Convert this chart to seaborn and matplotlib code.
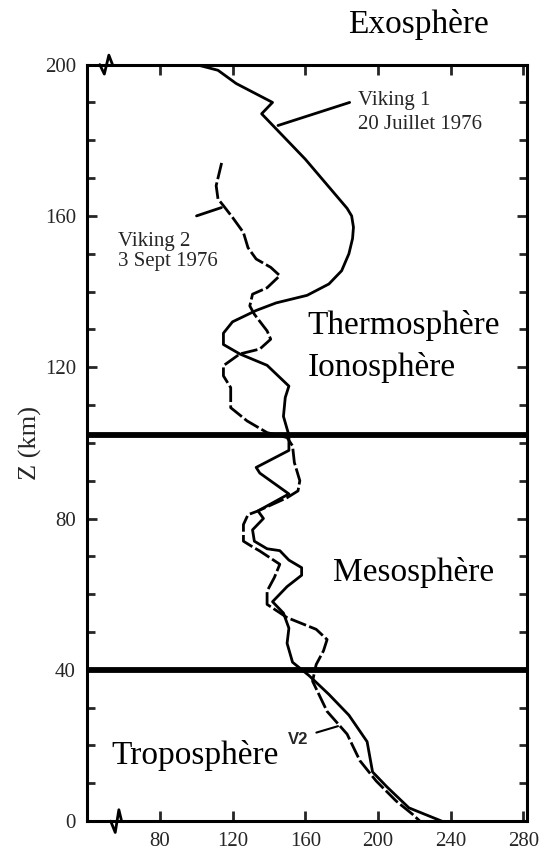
import numpy as np
import pandas as pd
import matplotlib
matplotlib.use("Agg")
import matplotlib.pyplot as plt
import seaborn as sns

# Viking 1 temperature profile (T in K, Z in km)
v1_temp = [100, 112, 122, 142, 136, 160, 183, 185.5, 186.5, 186, 184, 180, 173,
           161, 144, 133, 120, 115, 115, 124, 139, 151, 149, 148, 151, 151, 133,
           135, 151, 134, 137, 131, 132, 139, 146, 151, 158, 158, 150, 142, 148,
           151, 150, 153, 162, 173, 184, 194, 197, 205, 217, 235]
v1_alt = [200, 198.5, 195, 190, 187, 175, 162, 160, 157, 154, 150, 145.5, 142,
          139, 137, 135, 132, 129, 126, 123.5, 120.5, 115, 112, 107, 102, 98,
          93.5, 92, 86.5, 82, 80, 77, 74, 72, 71.5, 69, 67, 65, 62, 58, 55, 51,
          47, 42, 38.5, 33.5, 28, 21, 13, 9, 3.5, 0]

# Viking 2 temperature profile
v2_temp = [114, 111, 112, 115, 120, 126, 128.5, 133, 141, 146, 139, 131, 129.5,
           132, 139, 141, 135, 124, 115, 115, 119, 119, 128, 139, 150, 153, 154,
           157, 156, 150, 134, 128.5, 126, 126, 130, 135, 146, 143, 139, 139,
           150, 166, 172, 170, 166, 164, 172, 183, 190, 199, 210, 219, 223]
v2_alt = [174, 168, 164.5, 162.7, 159.6, 155.6, 151.6, 148.6, 146.4, 144.2, 141,
          139.3, 136.2, 134, 129.6, 127.4, 124.8, 123.5, 120.4, 117.7, 114.6,
          109.3, 105.8, 102.7, 101.4, 99.2, 94.8, 90, 87.3, 85.5, 82, 81, 78.4,
          74, 72.8, 71.4, 67.9, 64.4, 60.8, 57.3, 53.8, 50.7, 48, 45, 41.4, 37,
          29, 23, 16, 10.6, 5.3, 1.8, 0]

# layer boundaries (km)
boundaries = [40, 102]

x_ticks = [80, 120, 160, 200, 240, 280]
y_ticks = [0, 40, 80, 120, 160, 200]

df1 = pd.DataFrame({"T": v1_temp, "Z": v1_alt})
df2 = pd.DataFrame({"T": v2_temp, "Z": v2_alt})

sns.set_style("ticks")
plt.rcParams['font.family'] = ['Liberation Serif', 'DejaVu Serif']
plt.rcParams['axes.unicode_minus'] = False

fig = plt.figure(figsize=(5.44, 8.5), dpi=100)
ax = fig.add_axes([0.160, 0.034, 0.809, 0.890])

sns.lineplot(data=df1, x="T", y="Z", sort=False, estimator=None,
             color="black", lw=2.0, ax=ax)
sns.lineplot(data=df2, x="T", y="Z", sort=False, estimator=None,
             color="black", lw=2.0, ax=ax)
ax.lines[-1].set_dashes((6, 1.2))

for b in boundaries:
    ax.axhline(b, color="black", lw=4.2, zorder=3)

ax.set_xlim(40, 282)
ax.set_ylim(0, 200)
ax.set_xticks(x_ticks)
ax.set_yticks(y_ticks)
ax.set_yticks(np.arange(0, 201, 10), minor=True)
ax.tick_params(axis="both", which="major", direction="in", length=7, width=2,
               labelsize=15, top=True, right=True, pad=8)
ax.tick_params(axis="y", which="minor", direction="in", length=6, width=2,
               right=True)
ax.set_xlabel("")
ax.set_ylabel("Z (km)", fontsize=19, labelpad=2)
for s in ax.spines.values():
    s.set_linewidth(2.2)
    s.set_color("black")

# axis-break marks
ax.plot([47, 49.5, 52, 54], [200, 197.5, 202.5, 200], color="black", lw=2, clip_on=False)
ax.plot([53, 55.5, 57.5, 59], [0, -3, 3, 0], color="black", lw=2, clip_on=False)

# region labels
big = dict(fontsize=24, color="black")
fig.text(0.769, 0.961, "Exosphère", ha="center", va="baseline", **big)
ax.text(161.3, 128.8, "Thermosphère", ha="left", va="baseline", **big)
ax.text(161.3, 117.7, "Ionosphère", ha="left", va="baseline", **big)
ax.text(175, 63.5, "Mesosphère", ha="left", va="baseline", **big)
ax.text(53.5, 15, "Troposphère", ha="left", va="baseline", **big)

# probe labels + leaders
ax.text(188.8, 189.2, "Viking 1", fontsize=15, va="baseline")
ax.text(188.8, 183, "20 Juillet 1976", fontsize=15, va="baseline")
ax.plot([145, 184.4], [183.9, 190], color="black", lw=2)
ax.text(57, 152, "Viking 2", fontsize=15, va="baseline")
ax.text(57, 146.8, "3 Sept 1976", fontsize=15, va="baseline")
ax.plot([100.2, 113.9], [160, 162.2], color="black", lw=2)
ax.text(150.3, 20.4, "V2", fontsize=12, fontweight="bold", va="baseline",
        family=["Liberation Sans", "DejaVu Sans"])
ax.plot([166.1, 178], [23.4, 25.1], color="black", lw=1.5)

plt.savefig("out.png", dpi=100)
